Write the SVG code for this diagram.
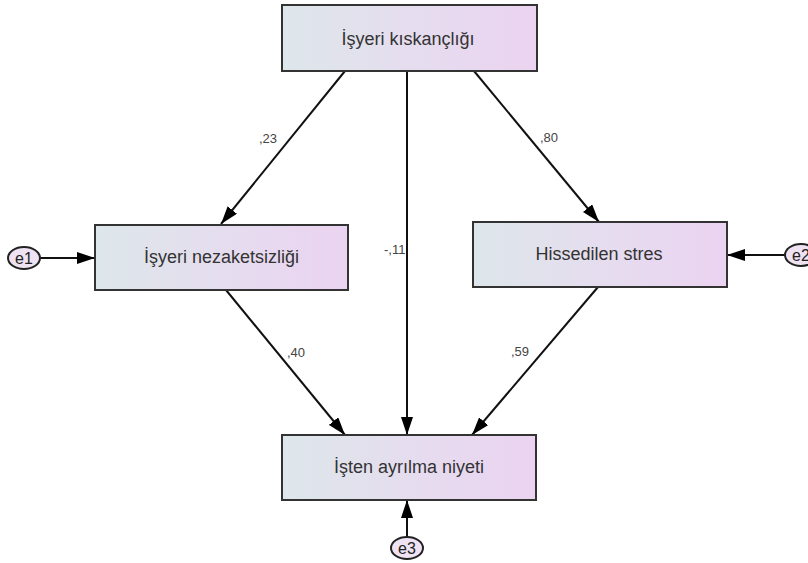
<svg xmlns="http://www.w3.org/2000/svg" width="808" height="563" viewBox="0 0 808 563">
<defs>
<linearGradient id="g" x1="0" y1="0" x2="1" y2="0">
<stop offset="0" stop-color="#dde7ea"/>
<stop offset="0.55" stop-color="#e6dcef"/>
<stop offset="1" stop-color="#ebd3f1"/>
</linearGradient>
<marker id="ah" viewBox="0 0 18 12" refX="18" refY="6" markerWidth="18" markerHeight="12" markerUnits="userSpaceOnUse" orient="auto">
<path d="M0,0 L18,6 L0,12 Z" fill="#000"/>
</marker>
<style>
.box{fill:url(#g);stroke:#333;stroke-width:2}
.err{fill:#efe3f3;stroke:#222;stroke-width:2}
.t{font-family:"Liberation Sans",Arial,sans-serif;font-size:18px;fill:#333;text-anchor:middle}
.et{font-family:"Liberation Sans",Arial,sans-serif;font-size:16px;fill:#222;text-anchor:middle}
.c{font-family:"Liberation Sans",Arial,sans-serif;font-size:13px;fill:#444}
.ln{stroke:#111;stroke-width:2;fill:none;marker-end:url(#ah)}
</style>
</defs>
<rect width="808" height="563" fill="#fff"/>
<g id="connectors">
<line class="ln" x1="345" y1="71" x2="221" y2="224"/>
<line class="ln" x1="407" y1="71" x2="407" y2="435"/>
<line class="ln" x1="474" y1="71" x2="599" y2="222"/>
<line class="ln" x1="226" y1="290" x2="345" y2="435"/>
<line class="ln" x1="598" y1="287" x2="472" y2="435"/>
<line class="ln" x1="40" y1="258" x2="95" y2="258"/>
<line class="ln" x1="785" y1="255" x2="727" y2="255"/>
<line class="ln" x1="407" y1="537" x2="407" y2="500"/>
<text class="c" x="259" y="143">,23</text>
<text class="c" x="540" y="142">,80</text>
<text class="c" x="384" y="254">-,11</text>
<text class="c" x="287" y="357">,40</text>
<text class="c" x="511" y="356">,59</text>
</g>
<g id="n_kiskanclik">
<rect class="box" x="282" y="5" width="255" height="66"/>
<text class="t" x="408" y="45">İşyeri kıskançlığı</text>
</g>
<g id="n_nezaketsizlik">
<rect class="box" x="95" y="225" width="253" height="65"/>
<text class="t" x="221.5" y="263">İşyeri nezaketsizliği</text>
</g>
<g id="n_stres">
<rect class="box" x="473" y="222" width="254" height="65"/>
<text class="t" x="599" y="260">Hissedilen stres</text>
</g>
<g id="n_niyet">
<rect class="box" x="282" y="435" width="254" height="65"/>
<text class="t" x="409" y="473">İşten ayrılma niyeti</text>
</g>
<g id="e1">
<ellipse class="err" cx="24" cy="258" rx="16" ry="11"/>
<text class="et" x="24" y="264">e1</text>
</g>
<g id="e2">
<ellipse class="err" cx="801" cy="255" rx="16" ry="11"/>
<text class="et" x="801" y="261">e2</text>
</g>
<g id="e3">
<ellipse class="err" cx="407" cy="548" rx="16" ry="11"/>
<text class="et" x="407" y="554">e3</text>
</g>
</svg>
